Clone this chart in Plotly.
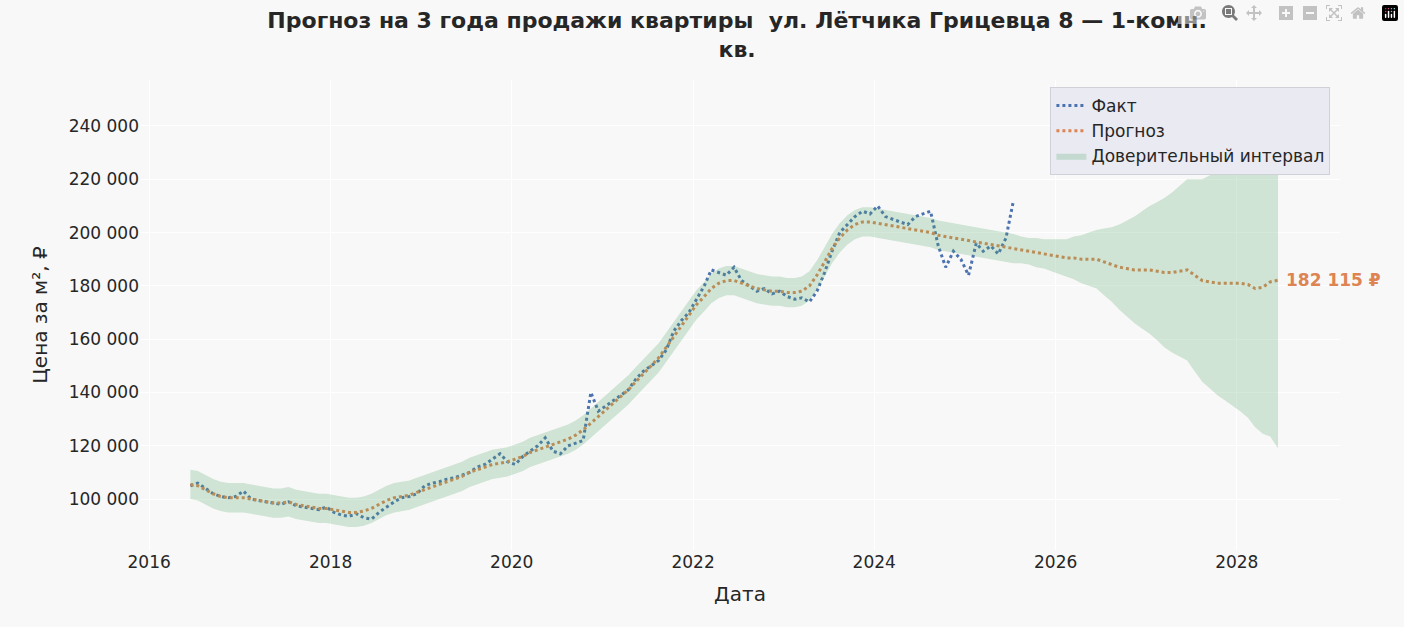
import pandas as pd
import plotly.graph_objects as go

fact = [105000,106000,104000,102000,101000,100500,101000,
 103000,100000,99500,99000,98500,98000,99000,97500,97000,96500,96000,97000,
 95000,94000,93500,94500,93000,92500,95000,97000,99000,100500,101000,102000,
 105000,106000,106500,107500,108000,109000,110000,112000,113000,115000,117000,114000,
 113000,116000,118000,120000,123000,118000,117000,120000,121000,122000,140000,133000,
 135000,137000,139000,141000,145000,148000,150000,152000,156000,163000,167000,170000,
 175000,180000,186000,185000,184000,187000,182000,180000,178000,179000,177000,178000,
 176000,175000,175500,174000,178000,185000,193000,200000,203000,206000,208000,207000,
 210000,206000,205000,204000,203000,206000,207000,208000,195000,187000,193000,190000,
 184000,196000,193000,195000,192000,198000,212000]

forecast = [105500,105000,103500,102000,101000,100500,100500,
 100500,100000,99500,99000,98500,98500,99000,98000,97500,97000,96500,96500,
 96000,95500,95000,95000,95500,96500,98000,99500,100500,101000,101500,102500,
 103500,104500,105500,106500,107500,108500,110000,111000,112000,113000,113500,114000,
 115000,116000,117500,118500,119500,120500,121500,122500,124000,126000,128500,131000,
 133500,136000,138500,141000,144000,147000,150000,153000,157000,161000,165000,169000,
 173000,176000,179000,181000,182000,182000,181000,180000,179000,178500,178000,178000,
 177500,177500,178000,180000,184000,189000,194000,198000,201000,203000,204000,204000,
 203500,203000,202500,202000,201500,201000,200500,200000,199000,198500,198000,197500,
 197000,196500,196000,195500,195000,194500,194000,193500,193000,192500,192000,191500,
 191000,190500,190500,190000,190000,190000,189000,188000,187000,186500,186000,186000,
 186000,185500,185000,185000,185500,186000,184000,182000,181500,181000,181000,181000,
 181000,180500,179000,179500,181500,182115]

hist_halfwidth = 5500
future_halfwidth = [5000,5000,5500,5500,6000,6500,7000,8000,9000,10000,11000,12500,14000,16000,18000,
 20000,22000,24000,26000,28000,30000,32000,34000,36000,38000,40000,42000,44000,46000,48000,
 50000,52000,55000,58000,63000]

fact_dates = pd.date_range("2016-06-01", periods=len(fact), freq="MS") + pd.Timedelta(days=14)
fc_dates = pd.date_range("2016-06-01", periods=len(forecast), freq="MS") + pd.Timedelta(days=14)
widths = [hist_halfwidth] * (len(forecast) - len(future_halfwidth)) + future_halfwidth
upper = [f + w for f, w in zip(forecast, widths)]
lower = [f - w for f, w in zip(forecast, widths)]

fig = go.Figure()
fig.add_trace(go.Scatter(x=fact_dates, y=fact, mode="lines", line=dict(color="#4c72b0", width=3, dash="dot"), name="Факт"))
fig.add_trace(go.Scatter(x=fc_dates, y=forecast, mode="lines", line=dict(color="#dd8452", width=3, dash="dot"), name="Прогноз"))
fig.add_trace(go.Scatter(x=fc_dates, y=upper, mode="lines", line=dict(width=0), showlegend=False, hoverinfo="skip"))
fig.add_trace(go.Scatter(x=fc_dates, y=lower, mode="lines", line=dict(width=0), fill="tonexty",
                         fillcolor="rgba(85,168,104,0.25)", name="Доверительный интервал"))

fig.add_annotation(x=fc_dates[-1], y=forecast[-1], text="<b>182 115 ₽</b>", showarrow=False,
                   xanchor="left", xshift=6, font=dict(color="#dd8452", size=17))

fig.update_layout(
    width=1404, height=627, paper_bgcolor="#f8f8f8", plot_bgcolor="#f8f8f8",
    font=dict(family="DejaVu Sans", size=17, color="#262626"),
    title=dict(text="<b>Прогноз на 3 года продажи квартиры  ул. Лётчика Грицевца 8 — 1-комн.<br>кв.</b>",
               x=0.525, xanchor="center", y=0.955, yanchor="top", font=dict(size=22)),
    margin=dict(l=140, r=64, t=80, b=77),
    legend=dict(x=0.992, y=0.985, xanchor="right", yanchor="top", bgcolor="#eaeaf2", traceorder="normal",
                bordercolor="#d0d0d8", borderwidth=1, font=dict(size=17)),
    xaxis=dict(title=dict(text="Дата"), range=["2015-11-25", "2029-02-20"], gridcolor="white",
               tickvals=[f"{y}-01-01" for y in range(2016, 2030, 2)], tickformat="%Y", zeroline=False,
               showline=False),
    yaxis=dict(title=dict(text="Цена за м², ₽"), range=[80900, 257250], gridcolor="white",
               tickvals=list(range(100000, 260000, 20000)),
               ticktext=[f"{v:,}".replace(",", " ") for v in range(100000, 260000, 20000)], zeroline=False),
)
fig.write_html("out.html", post_script="document.body.style.margin='0';document.body.style.background='#f8f8f8';")
